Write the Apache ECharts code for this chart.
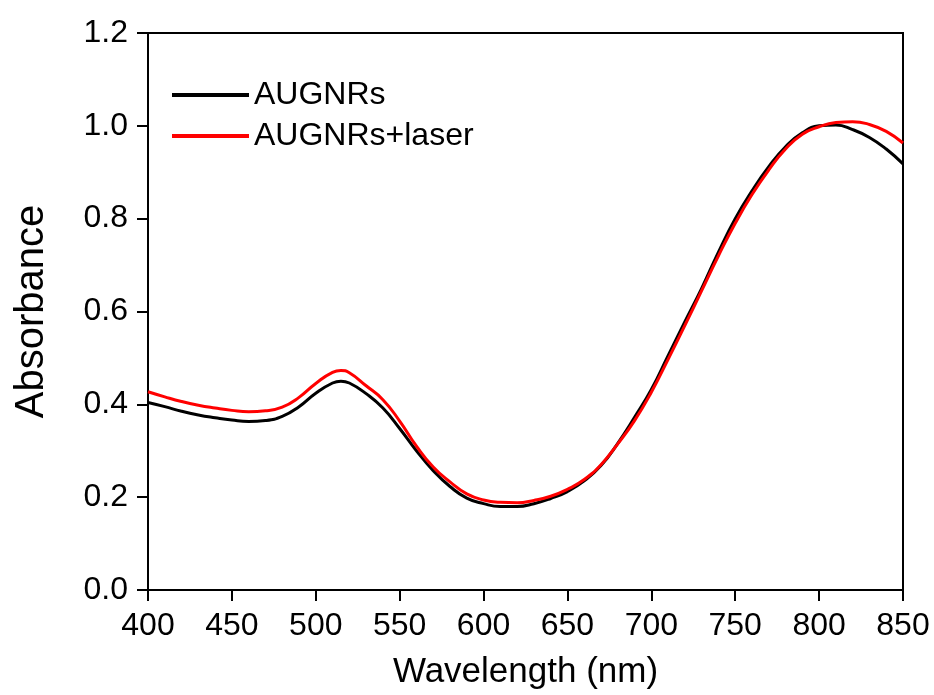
<!DOCTYPE html>
<html>
<head>
<meta charset="utf-8">
<script src="https://cdn.jsdelivr.net/npm/echarts@6/dist/echarts.min.js"></script>
<style>
  html, body { margin: 0; padding: 0; background: #fff; }
  #chart { width: 934px; height: 695px; }
</style>
</head>
<body>
<div id="chart"></div>
<script>
// Wavelength samples (nm)
const wavelengths = [400, 410, 420, 430, 440, 450, 460, 470, 480, 490, 500, 510, 515, 520, 530, 540, 550, 560, 570, 580,
  590, 600, 610, 620, 630, 640, 650, 660, 670, 680, 690, 700, 710, 720, 730, 740, 750, 760, 770, 780,
  790, 800, 810, 820, 830, 840, 850];

// Absorbance of gold nanorods before irradiation
const augnrs = [0.404, 0.395, 0.385, 0.377, 0.371, 0.366, 0.363, 0.365, 0.374, 0.395, 0.424, 0.446, 0.450, 0.446, 0.423, 0.392, 0.348, 0.300, 0.257, 0.223,
  0.198, 0.186, 0.180, 0.180, 0.186, 0.197, 0.212, 0.235, 0.268, 0.316, 0.372, 0.432, 0.505, 0.578, 0.650, 0.728, 0.800, 0.860, 0.912, 0.955,
  0.985, 1.000, 1.002, 0.992, 0.975, 0.950, 0.918];

// Absorbance after laser irradiation
const augnrsLaser = [0.427, 0.416, 0.406, 0.398, 0.392, 0.387, 0.384, 0.386, 0.394, 0.415, 0.445, 0.469, 0.473, 0.468, 0.440, 0.410, 0.364, 0.310, 0.265, 0.233,
  0.207, 0.194, 0.189, 0.188, 0.193, 0.202, 0.217, 0.238, 0.270, 0.315, 0.365, 0.426, 0.497, 0.570, 0.645, 0.720, 0.790, 0.852, 0.905, 0.950,
  0.982, 0.998, 1.007, 1.009, 1.003, 0.988, 0.963];

const seriesNames = ['AUGNRs', 'AUGNRs+laser'];
const seriesColors = ['#000000', '#ff0000'];

// Axis ranges and tick spacing
const xRange = [400, 850], xStep = 50;
const yRange = [0, 1.2], yStep = 0.2;

const pair = (ys) => wavelengths.map((x, i) => [x, ys[i]]);

const FONT = 'Liberation Sans, Arial, sans-serif';
const blackLine = { color: '#000', width: 2 };
const noSplit = { show: false };
const TICK_LEN = 11;

// Plot rectangle
const GRID = { left: 148, right: 31, top: 33, bottom: 105 };
const plotW = 934 - GRID.left - GRID.right;
const plotH = 695 - GRID.top - GRID.bottom;

// Helper axes on the opposite sides, shifted onto the bottom/left edges,
// whose inside ticks point outward from the plot
const tickAxisX = {
  type: 'value', position: 'top', offset: -plotH,
  min: xRange[0], max: xRange[1], interval: xStep,
  axisLine: { show: true, onZero: false, lineStyle: blackLine },
  axisTick: { show: true, inside: true, length: TICK_LEN, lineStyle: blackLine },
  axisLabel: { show: false }, splitLine: noSplit
};
const tickAxisY = {
  type: 'value', position: 'right', offset: -plotW,
  min: yRange[0], max: yRange[1], interval: yStep,
  axisLine: { show: true, onZero: false, lineStyle: blackLine },
  axisTick: { show: true, inside: true, length: TICK_LEN, lineStyle: blackLine },
  axisLabel: { show: false }, splitLine: noSplit
};

const chart = echarts.init(document.getElementById('chart'));
chart.setOption({
  animation: false,
  backgroundColor: '#ffffff',
  grid: Object.assign({ show: true, borderColor: '#000', borderWidth: 2 }, GRID),
  legend: {
    orient: 'vertical',
    left: 167, top: 74,
    icon: 'rect',
    itemWidth: 77, itemHeight: 4,
    itemGap: 9,
    textStyle: { fontFamily: FONT, fontSize: 32, lineHeight: 30, color: '#000' },
    data: seriesNames
  },
  xAxis: [{
    type: 'value', position: 'bottom',
    min: xRange[0], max: xRange[1], interval: xStep,
    name: 'Wavelength (nm)',
    nameLocation: 'middle',
    nameGap: 65,
    nameMoveOverlap: false,
    nameTextStyle: { fontFamily: FONT, fontSize: 35, color: '#000' },
    axisLine: { show: true, onZero: false, lineStyle: blackLine },
    axisTick: { show: true, length: TICK_LEN, lineStyle: blackLine },
    axisLabel: { fontFamily: FONT, fontSize: 32, color: '#000', margin: 20 },
    splitLine: noSplit
  }, tickAxisX],
  yAxis: [{
    type: 'value', position: 'left',
    min: yRange[0], max: yRange[1], interval: yStep,
    name: 'Absorbance',
    nameLocation: 'middle',
    nameGap: 96,
    nameTextStyle: { fontFamily: FONT, fontSize: 40, color: '#000' },
    axisLine: { show: true, onZero: false, lineStyle: blackLine },
    axisTick: { show: true, length: TICK_LEN, lineStyle: blackLine },
    axisLabel: { fontFamily: FONT, fontSize: 32, color: '#000', margin: 20,
      formatter: (v) => v.toFixed(1) },
    splitLine: noSplit
  }, tickAxisY],
  series: [
    {
      name: seriesNames[0], type: 'line', data: pair(augnrs),
      smooth: true, showSymbol: false, symbol: 'none',
      lineStyle: { color: seriesColors[0], width: 3 }, itemStyle: { color: seriesColors[0] }
    },
    {
      name: seriesNames[1], type: 'line', data: pair(augnrsLaser),
      smooth: true, showSymbol: false, symbol: 'none',
      lineStyle: { color: seriesColors[1], width: 3 }, itemStyle: { color: seriesColors[1] }
    }
  ]
});
</script>
</body>
</html>
